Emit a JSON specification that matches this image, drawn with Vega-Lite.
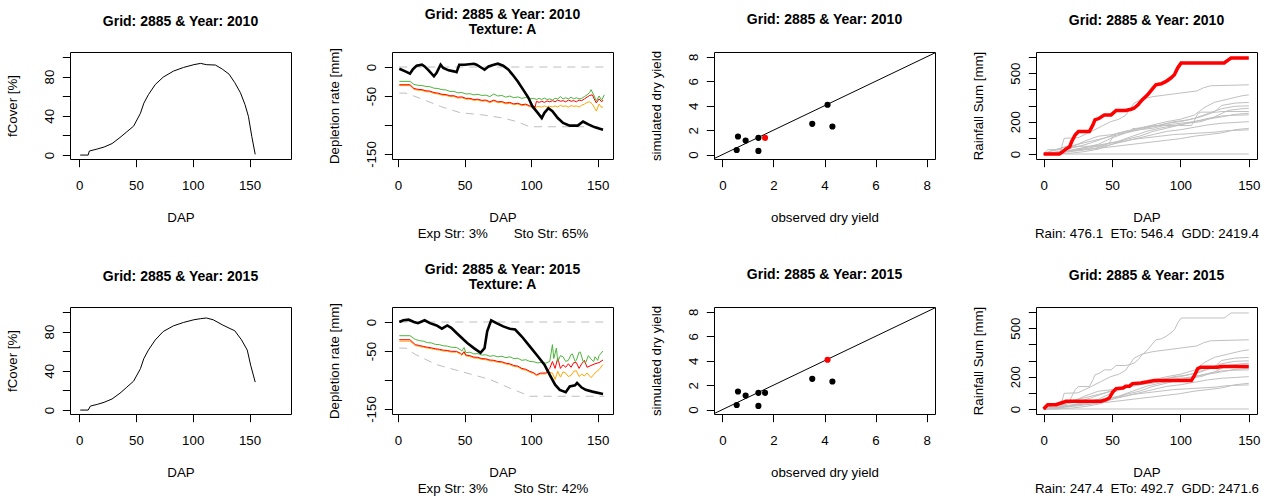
{
"$schema": "https://vega.github.io/schema/vega-lite/v6.json",
"background": "white",
"padding": {"left": 5, "top": 7, "right": 5, "bottom": 5},
"config": {
 "font": "Liberation Sans",
 "view": {"stroke": "black", "strokeWidth": 1},
 "title": {"font": "Liberation Sans", "fontSize": 14, "fontWeight": "bold", "color": "black", "anchor": "middle", "frame": "group", "baseline": "bottom", "offset": 23},
 "axis": {"domain": false, "grid": false, "ticks": true, "tickSize": 7.7, "tickColor": "black", "tickWidth": 1, "labelFont": "Liberation Sans", "labelFontSize": 13.3, "labelColor": "black", "titleFont": "Liberation Sans", "titleFontSize": 13.3, "titleFontWeight": "normal", "titleColor": "black", "labelFlush": false, "labelOverlap": false},
 "axisX": {"labelPadding": 11.6, "titlePadding": 19.3, "titleLineHeight": 15.3},
 "axisY": {"labelAngle": -90, "labelAlign": "center", "labelBaseline": "bottom", "labelPadding": 5.7, "titlePadding": 23}
},
"datasets": {
 "fc": [
  {"year":2010,"dap":1,"fc":0},{"year":2010,"dap":8,"fc":0},{"year":2010,"dap":9,"fc":4.1},{"year":2010,"dap":16,"fc":6.2},{"year":2010,"dap":22,"fc":8.2},{"year":2010,"dap":29,"fc":11.7},{"year":2010,"dap":36,"fc":17.9},{"year":2010,"dap":42,"fc":23.7},{"year":2010,"dap":48,"fc":29.5},{"year":2010,"dap":54,"fc":42.6},{"year":2010,"dap":57,"fc":52.9},{"year":2010,"dap":61,"fc":61.5},{"year":2010,"dap":67,"fc":71.8},{"year":2010,"dap":74,"fc":79.4},{"year":2010,"dap":83,"fc":85.5},{"year":2010,"dap":92,"fc":89.3},{"year":2010,"dap":101,"fc":92.1},{"year":2010,"dap":107,"fc":93.4},{"year":2010,"dap":112,"fc":92.1},{"year":2010,"dap":120,"fc":91.7},{"year":2010,"dap":126,"fc":87.6},{"year":2010,"dap":132,"fc":82.4},{"year":2010,"dap":137,"fc":73.8},{"year":2010,"dap":142,"fc":63.5},{"year":2010,"dap":146,"fc":51.5},{"year":2010,"dap":149,"fc":39.5},{"year":2010,"dap":152,"fc":18.9},{"year":2010,"dap":155,"fc":0.7},
  {"year":2015,"dap":1,"fc":0},{"year":2015,"dap":8,"fc":0},{"year":2015,"dap":10,"fc":4.1},{"year":2015,"dap":16,"fc":5.8},{"year":2015,"dap":22,"fc":7.9},{"year":2015,"dap":29,"fc":11.3},{"year":2015,"dap":36,"fc":17.2},{"year":2015,"dap":42,"fc":23.3},{"year":2015,"dap":48,"fc":29.5},{"year":2015,"dap":54,"fc":42.2},{"year":2015,"dap":57,"fc":52.5},{"year":2015,"dap":61,"fc":61.1},{"year":2015,"dap":67,"fc":71.4},{"year":2015,"dap":74,"fc":80},{"year":2015,"dap":83,"fc":85.8},{"year":2015,"dap":92,"fc":89.3},{"year":2015,"dap":101,"fc":92},{"year":2015,"dap":107,"fc":93.1},{"year":2015,"dap":112,"fc":93.8},{"year":2015,"dap":118,"fc":92},{"year":2015,"dap":126,"fc":86.9},{"year":2015,"dap":132,"fc":83.5},{"year":2015,"dap":137,"fc":80.8},{"year":2015,"dap":143,"fc":71.4},{"year":2015,"dap":148,"fc":61.1},{"year":2015,"dap":151,"fc":45.7},{"year":2015,"dap":155,"fc":28.5}
 ],
 "dep": [
  {"year":2010,"s":"top","dap":1,"v":0},{"year":2010,"s":"top","dap":155,"v":0},
  {"year":2010,"s":"taw","dap":1,"v":-45},{"year":2010,"s":"taw","dap":6,"v":-45},{"year":2010,"s":"taw","dap":19,"v":-56},{"year":2010,"s":"taw","dap":32,"v":-68},{"year":2010,"s":"taw","dap":47,"v":-79},{"year":2010,"s":"taw","dap":62,"v":-82},{"year":2010,"s":"taw","dap":79,"v":-88},{"year":2010,"s":"taw","dap":89,"v":-94},{"year":2010,"s":"taw","dap":99,"v":-103},{"year":2010,"s":"taw","dap":155,"v":-103},
  {"year":2010,"s":"green","dap":1,"v":-24.7},{"year":2010,"s":"green","dap":9,"v":-24.7},{"year":2010,"s":"green","dap":12,"v":-30},{"year":2010,"s":"green","dap":15,"v":-31.5},{"year":2010,"s":"green","dap":18,"v":-32},{"year":2010,"s":"green","dap":21,"v":-33.5},{"year":2010,"s":"green","dap":24,"v":-34},{"year":2010,"s":"green","dap":27,"v":-36.5},{"year":2010,"s":"green","dap":30,"v":-37},{"year":2010,"s":"green","dap":33,"v":-39},{"year":2010,"s":"green","dap":36,"v":-39.5},{"year":2010,"s":"green","dap":39,"v":-42},{"year":2010,"s":"green","dap":42,"v":-42},{"year":2010,"s":"green","dap":45,"v":-44.5},{"year":2010,"s":"green","dap":48,"v":-44},{"year":2010,"s":"green","dap":51,"v":-46.5},{"year":2010,"s":"green","dap":54,"v":-46},{"year":2010,"s":"green","dap":57,"v":-48},{"year":2010,"s":"green","dap":60,"v":-47},{"year":2010,"s":"green","dap":63,"v":-49},{"year":2010,"s":"green","dap":66,"v":-48.5},{"year":2010,"s":"green","dap":69,"v":-51},{"year":2010,"s":"green","dap":72,"v":-46.5},{"year":2010,"s":"green","dap":75,"v":-50},{"year":2010,"s":"green","dap":78,"v":-49},{"year":2010,"s":"green","dap":81,"v":-52},{"year":2010,"s":"green","dap":84,"v":-50},{"year":2010,"s":"green","dap":87,"v":-53},{"year":2010,"s":"green","dap":90,"v":-51.5},{"year":2010,"s":"green","dap":93,"v":-54},{"year":2010,"s":"green","dap":96,"v":-52.5},{"year":2010,"s":"green","dap":99,"v":-55},{"year":2010,"s":"green","dap":102,"v":-54},{"year":2010,"s":"green","dap":104,"v":-56},{"year":2010,"s":"green","dap":106,"v":-54},{"year":2010,"s":"green","dap":108,"v":-56},{"year":2010,"s":"green","dap":110,"v":-53.5},{"year":2010,"s":"green","dap":112,"v":-56},{"year":2010,"s":"green","dap":114,"v":-55},{"year":2010,"s":"green","dap":116,"v":-57},{"year":2010,"s":"green","dap":118,"v":-54},{"year":2010,"s":"green","dap":120,"v":-55},{"year":2010,"s":"green","dap":122,"v":-51},{"year":2010,"s":"green","dap":124,"v":-55},{"year":2010,"s":"green","dap":126,"v":-53},{"year":2010,"s":"green","dap":128,"v":-55},{"year":2010,"s":"green","dap":130,"v":-52},{"year":2010,"s":"green","dap":132,"v":-55},{"year":2010,"s":"green","dap":134,"v":-53},{"year":2010,"s":"green","dap":136,"v":-55},{"year":2010,"s":"green","dap":138,"v":-54},{"year":2010,"s":"green","dap":140,"v":-51},{"year":2010,"s":"green","dap":142,"v":-48},{"year":2010,"s":"green","dap":144,"v":-44},{"year":2010,"s":"green","dap":145,"v":-39},{"year":2010,"s":"green","dap":147,"v":-48},{"year":2010,"s":"green","dap":149,"v":-59},{"year":2010,"s":"green","dap":151,"v":-50},{"year":2010,"s":"green","dap":153,"v":-57},{"year":2010,"s":"green","dap":155,"v":-48},
  {"year":2010,"s":"orange","dap":1,"v":-32},{"year":2010,"s":"orange","dap":9,"v":-32},{"year":2010,"s":"orange","dap":12,"v":-38.5},{"year":2010,"s":"orange","dap":15,"v":-40},{"year":2010,"s":"orange","dap":18,"v":-40.5},{"year":2010,"s":"orange","dap":21,"v":-42.5},{"year":2010,"s":"orange","dap":24,"v":-43},{"year":2010,"s":"orange","dap":27,"v":-45.5},{"year":2010,"s":"orange","dap":30,"v":-46.5},{"year":2010,"s":"orange","dap":33,"v":-48.5},{"year":2010,"s":"orange","dap":36,"v":-49},{"year":2010,"s":"orange","dap":39,"v":-51},{"year":2010,"s":"orange","dap":42,"v":-51},{"year":2010,"s":"orange","dap":45,"v":-53.5},{"year":2010,"s":"orange","dap":48,"v":-53},{"year":2010,"s":"orange","dap":51,"v":-55.5},{"year":2010,"s":"orange","dap":54,"v":-55.5},{"year":2010,"s":"orange","dap":57,"v":-57.5},{"year":2010,"s":"orange","dap":60,"v":-57},{"year":2010,"s":"orange","dap":63,"v":-59},{"year":2010,"s":"orange","dap":66,"v":-58.5},{"year":2010,"s":"orange","dap":69,"v":-61.5},{"year":2010,"s":"orange","dap":72,"v":-58.5},{"year":2010,"s":"orange","dap":75,"v":-61.5},{"year":2010,"s":"orange","dap":78,"v":-61},{"year":2010,"s":"orange","dap":81,"v":-63.5},{"year":2010,"s":"orange","dap":84,"v":-62.5},{"year":2010,"s":"orange","dap":87,"v":-65},{"year":2010,"s":"orange","dap":90,"v":-64},{"year":2010,"s":"orange","dap":93,"v":-66.5},{"year":2010,"s":"orange","dap":96,"v":-65.5},{"year":2010,"s":"orange","dap":99,"v":-68.5},{"year":2010,"s":"orange","dap":102,"v":-69},{"year":2010,"s":"orange","dap":103,"v":-70},{"year":2010,"s":"orange","dap":105,"v":-68},{"year":2010,"s":"orange","dap":108,"v":-69},{"year":2010,"s":"orange","dap":110,"v":-67},{"year":2010,"s":"orange","dap":112,"v":-69},{"year":2010,"s":"orange","dap":114,"v":-67.5},{"year":2010,"s":"orange","dap":116,"v":-69},{"year":2010,"s":"orange","dap":118,"v":-67},{"year":2010,"s":"orange","dap":120,"v":-69},{"year":2010,"s":"orange","dap":122,"v":-66},{"year":2010,"s":"orange","dap":124,"v":-68},{"year":2010,"s":"orange","dap":126,"v":-67},{"year":2010,"s":"orange","dap":128,"v":-69},{"year":2010,"s":"orange","dap":130,"v":-66.5},{"year":2010,"s":"orange","dap":132,"v":-68},{"year":2010,"s":"orange","dap":134,"v":-67},{"year":2010,"s":"orange","dap":136,"v":-69},{"year":2010,"s":"orange","dap":138,"v":-66},{"year":2010,"s":"orange","dap":140,"v":-64},{"year":2010,"s":"orange","dap":142,"v":-61},{"year":2010,"s":"orange","dap":144,"v":-60},{"year":2010,"s":"orange","dap":146,"v":-64},{"year":2010,"s":"orange","dap":148,"v":-72},{"year":2010,"s":"orange","dap":149,"v":-76},{"year":2010,"s":"orange","dap":151,"v":-64},{"year":2010,"s":"orange","dap":153,"v":-70},{"year":2010,"s":"orange","dap":154,"v":-68},
  {"year":2010,"s":"red","dap":1,"v":-30.5},{"year":2010,"s":"red","dap":9,"v":-30.5},{"year":2010,"s":"red","dap":12,"v":-37},{"year":2010,"s":"red","dap":15,"v":-38.5},{"year":2010,"s":"red","dap":18,"v":-39},{"year":2010,"s":"red","dap":21,"v":-41},{"year":2010,"s":"red","dap":24,"v":-41.5},{"year":2010,"s":"red","dap":27,"v":-44},{"year":2010,"s":"red","dap":30,"v":-45},{"year":2010,"s":"red","dap":33,"v":-47},{"year":2010,"s":"red","dap":36,"v":-47.5},{"year":2010,"s":"red","dap":39,"v":-49.5},{"year":2010,"s":"red","dap":42,"v":-49.5},{"year":2010,"s":"red","dap":45,"v":-52},{"year":2010,"s":"red","dap":48,"v":-51.5},{"year":2010,"s":"red","dap":51,"v":-54},{"year":2010,"s":"red","dap":54,"v":-54},{"year":2010,"s":"red","dap":57,"v":-56},{"year":2010,"s":"red","dap":60,"v":-55.5},{"year":2010,"s":"red","dap":63,"v":-57.5},{"year":2010,"s":"red","dap":66,"v":-57},{"year":2010,"s":"red","dap":69,"v":-60},{"year":2010,"s":"red","dap":72,"v":-57},{"year":2010,"s":"red","dap":75,"v":-60},{"year":2010,"s":"red","dap":78,"v":-59.5},{"year":2010,"s":"red","dap":81,"v":-62},{"year":2010,"s":"red","dap":84,"v":-61},{"year":2010,"s":"red","dap":87,"v":-63.5},{"year":2010,"s":"red","dap":90,"v":-62.5},{"year":2010,"s":"red","dap":93,"v":-65},{"year":2010,"s":"red","dap":96,"v":-64},{"year":2010,"s":"red","dap":99,"v":-67},{"year":2010,"s":"red","dap":102,"v":-67.5},{"year":2010,"s":"red","dap":103,"v":-69},{"year":2010,"s":"red","dap":104,"v":-59},{"year":2010,"s":"red","dap":106,"v":-61},{"year":2010,"s":"red","dap":108,"v":-59},{"year":2010,"s":"red","dap":110,"v":-61},{"year":2010,"s":"red","dap":112,"v":-58.5},{"year":2010,"s":"red","dap":114,"v":-60},{"year":2010,"s":"red","dap":116,"v":-58},{"year":2010,"s":"red","dap":118,"v":-60},{"year":2010,"s":"red","dap":120,"v":-57},{"year":2010,"s":"red","dap":122,"v":-59},{"year":2010,"s":"red","dap":124,"v":-58},{"year":2010,"s":"red","dap":126,"v":-60},{"year":2010,"s":"red","dap":128,"v":-57},{"year":2010,"s":"red","dap":130,"v":-59},{"year":2010,"s":"red","dap":132,"v":-58},{"year":2010,"s":"red","dap":134,"v":-60},{"year":2010,"s":"red","dap":136,"v":-57},{"year":2010,"s":"red","dap":138,"v":-58},{"year":2010,"s":"red","dap":140,"v":-55},{"year":2010,"s":"red","dap":142,"v":-52},{"year":2010,"s":"red","dap":144,"v":-49},{"year":2010,"s":"red","dap":146,"v":-48},{"year":2010,"s":"red","dap":148,"v":-58},{"year":2010,"s":"red","dap":149,"v":-62},{"year":2010,"s":"red","dap":151,"v":-55},{"year":2010,"s":"red","dap":153,"v":-60},{"year":2010,"s":"red","dap":154,"v":-57},
  {"year":2010,"s":"black","dap":1,"v":-3},{"year":2010,"s":"black","dap":5.5,"v":-7.5},{"year":2010,"s":"black","dap":9,"v":-11.5},{"year":2010,"s":"black","dap":11,"v":-4.6},{"year":2010,"s":"black","dap":14,"v":2.3},{"year":2010,"s":"black","dap":18,"v":4},{"year":2010,"s":"black","dap":20,"v":1},{"year":2010,"s":"black","dap":23,"v":-5.7},{"year":2010,"s":"black","dap":27,"v":-16},{"year":2010,"s":"black","dap":29,"v":-10},{"year":2010,"s":"black","dap":32,"v":4},{"year":2010,"s":"black","dap":34,"v":-1.7},{"year":2010,"s":"black","dap":38,"v":-5.7},{"year":2010,"s":"black","dap":42,"v":-7.5},{"year":2010,"s":"black","dap":44,"v":-9},{"year":2010,"s":"black","dap":46,"v":4},{"year":2010,"s":"black","dap":50,"v":4},{"year":2010,"s":"black","dap":57,"v":5.7},{"year":2010,"s":"black","dap":59,"v":4},{"year":2010,"s":"black","dap":63,"v":-1.7},{"year":2010,"s":"black","dap":65,"v":-4.6},{"year":2010,"s":"black","dap":68,"v":1},{"year":2010,"s":"black","dap":72,"v":4},{"year":2010,"s":"black","dap":75,"v":5.7},{"year":2010,"s":"black","dap":79,"v":2.3},{"year":2010,"s":"black","dap":83,"v":-4.6},{"year":2010,"s":"black","dap":86,"v":-13},{"year":2010,"s":"black","dap":90,"v":-25},{"year":2010,"s":"black","dap":94,"v":-39},{"year":2010,"s":"black","dap":98,"v":-53},{"year":2010,"s":"black","dap":101,"v":-68},{"year":2010,"s":"black","dap":105,"v":-79},{"year":2010,"s":"black","dap":108,"v":-88},{"year":2010,"s":"black","dap":110,"v":-79},{"year":2010,"s":"black","dap":113,"v":-71},{"year":2010,"s":"black","dap":116,"v":-76},{"year":2010,"s":"black","dap":120,"v":-88},{"year":2010,"s":"black","dap":124,"v":-96.5},{"year":2010,"s":"black","dap":129,"v":-101},{"year":2010,"s":"black","dap":135,"v":-101},{"year":2010,"s":"black","dap":139,"v":-94},{"year":2010,"s":"black","dap":143,"v":-99},{"year":2010,"s":"black","dap":148,"v":-104},{"year":2010,"s":"black","dap":154,"v":-108},
  {"year":2015,"s":"top","dap":1,"v":0},{"year":2015,"s":"top","dap":155,"v":0},
  {"year":2015,"s":"taw","dap":1,"v":-45},{"year":2015,"s":"taw","dap":6,"v":-45},{"year":2015,"s":"taw","dap":13,"v":-56},{"year":2015,"s":"taw","dap":29,"v":-73.5},{"year":2015,"s":"taw","dap":47,"v":-85},{"year":2015,"s":"taw","dap":69,"v":-99},{"year":2015,"s":"taw","dap":84,"v":-114},{"year":2015,"s":"taw","dap":96,"v":-125},{"year":2015,"s":"taw","dap":99,"v":-128},{"year":2015,"s":"taw","dap":155,"v":-128},
  {"year":2015,"s":"green","dap":1,"v":-23.6},{"year":2015,"s":"green","dap":9,"v":-23.6},{"year":2015,"s":"green","dap":13,"v":-30},{"year":2015,"s":"green","dap":16,"v":-32},{"year":2015,"s":"green","dap":19,"v":-33},{"year":2015,"s":"green","dap":22,"v":-35.5},{"year":2015,"s":"green","dap":25,"v":-36},{"year":2015,"s":"green","dap":28,"v":-38.5},{"year":2015,"s":"green","dap":31,"v":-39},{"year":2015,"s":"green","dap":34,"v":-41},{"year":2015,"s":"green","dap":37,"v":-41.5},{"year":2015,"s":"green","dap":40,"v":-43.5},{"year":2015,"s":"green","dap":44,"v":-44},{"year":2015,"s":"green","dap":47,"v":-48},{"year":2015,"s":"green","dap":48,"v":-50},{"year":2015,"s":"green","dap":49.6,"v":-44},{"year":2015,"s":"green","dap":51,"v":-53},{"year":2015,"s":"green","dap":54,"v":-52},{"year":2015,"s":"green","dap":57,"v":-55},{"year":2015,"s":"green","dap":60,"v":-54.5},{"year":2015,"s":"green","dap":63,"v":-57},{"year":2015,"s":"green","dap":66,"v":-56.5},{"year":2015,"s":"green","dap":69,"v":-59},{"year":2015,"s":"green","dap":72,"v":-58},{"year":2015,"s":"green","dap":75,"v":-60},{"year":2015,"s":"green","dap":78,"v":-59},{"year":2015,"s":"green","dap":81,"v":-61.5},{"year":2015,"s":"green","dap":84,"v":-60},{"year":2015,"s":"green","dap":87,"v":-63},{"year":2015,"s":"green","dap":90,"v":-62.5},{"year":2015,"s":"green","dap":93,"v":-66},{"year":2015,"s":"green","dap":96,"v":-65},{"year":2015,"s":"green","dap":99,"v":-68},{"year":2015,"s":"green","dap":102,"v":-68.5},{"year":2015,"s":"green","dap":105,"v":-70.5},{"year":2015,"s":"green","dap":108,"v":-69.5},{"year":2015,"s":"green","dap":111,"v":-71},{"year":2015,"s":"green","dap":114,"v":-68},{"year":2015,"s":"green","dap":116,"v":-39},{"year":2015,"s":"green","dap":117,"v":-63},{"year":2015,"s":"green","dap":119,"v":-45},{"year":2015,"s":"green","dap":120,"v":-68},{"year":2015,"s":"green","dap":122,"v":-58},{"year":2015,"s":"green","dap":124,"v":-60},{"year":2015,"s":"green","dap":126,"v":-68},{"year":2015,"s":"green","dap":128,"v":-66},{"year":2015,"s":"green","dap":130,"v":-56},{"year":2015,"s":"green","dap":131,"v":-55},{"year":2015,"s":"green","dap":133,"v":-68},{"year":2015,"s":"green","dap":134,"v":-66},{"year":2015,"s":"green","dap":136,"v":-52},{"year":2015,"s":"green","dap":137,"v":-52},{"year":2015,"s":"green","dap":139,"v":-68},{"year":2015,"s":"green","dap":141,"v":-70},{"year":2015,"s":"green","dap":143,"v":-58},{"year":2015,"s":"green","dap":145,"v":-64},{"year":2015,"s":"green","dap":147,"v":-68},{"year":2015,"s":"green","dap":148,"v":-60},{"year":2015,"s":"green","dap":150,"v":-66},{"year":2015,"s":"green","dap":151,"v":-58},{"year":2015,"s":"green","dap":154,"v":-50},
  {"year":2015,"s":"orange","dap":1,"v":-33},{"year":2015,"s":"orange","dap":9,"v":-33},{"year":2015,"s":"orange","dap":13,"v":-40.5},{"year":2015,"s":"orange","dap":16,"v":-42},{"year":2015,"s":"orange","dap":19,"v":-43.5},{"year":2015,"s":"orange","dap":22,"v":-45},{"year":2015,"s":"orange","dap":25,"v":-46},{"year":2015,"s":"orange","dap":28,"v":-47.5},{"year":2015,"s":"orange","dap":31,"v":-48.5},{"year":2015,"s":"orange","dap":34,"v":-50},{"year":2015,"s":"orange","dap":37,"v":-50.5},{"year":2015,"s":"orange","dap":40,"v":-52},{"year":2015,"s":"orange","dap":44,"v":-52},{"year":2015,"s":"orange","dap":47,"v":-55.5},{"year":2015,"s":"orange","dap":48,"v":-57.5},{"year":2015,"s":"orange","dap":49.6,"v":-52.5},{"year":2015,"s":"orange","dap":51,"v":-58.5},{"year":2015,"s":"orange","dap":54,"v":-59.5},{"year":2015,"s":"orange","dap":57,"v":-62},{"year":2015,"s":"orange","dap":60,"v":-62.5},{"year":2015,"s":"orange","dap":63,"v":-64.5},{"year":2015,"s":"orange","dap":66,"v":-65},{"year":2015,"s":"orange","dap":69,"v":-67},{"year":2015,"s":"orange","dap":72,"v":-67.5},{"year":2015,"s":"orange","dap":75,"v":-69.5},{"year":2015,"s":"orange","dap":78,"v":-70},{"year":2015,"s":"orange","dap":81,"v":-72.5},{"year":2015,"s":"orange","dap":84,"v":-73.5},{"year":2015,"s":"orange","dap":87,"v":-76.5},{"year":2015,"s":"orange","dap":90,"v":-77.5},{"year":2015,"s":"orange","dap":93,"v":-81.5},{"year":2015,"s":"orange","dap":96,"v":-83},{"year":2015,"s":"orange","dap":99,"v":-86.5},{"year":2015,"s":"orange","dap":102,"v":-89},{"year":2015,"s":"orange","dap":104,"v":-92.5},{"year":2015,"s":"orange","dap":107,"v":-89.5},{"year":2015,"s":"orange","dap":111,"v":-89.5},{"year":2015,"s":"orange","dap":113,"v":-86},{"year":2015,"s":"orange","dap":116,"v":-88},{"year":2015,"s":"orange","dap":118,"v":-99},{"year":2015,"s":"orange","dap":120,"v":-85},{"year":2015,"s":"orange","dap":122,"v":-95},{"year":2015,"s":"orange","dap":124,"v":-86},{"year":2015,"s":"orange","dap":126,"v":-88},{"year":2015,"s":"orange","dap":128,"v":-94},{"year":2015,"s":"orange","dap":130,"v":-92},{"year":2015,"s":"orange","dap":132,"v":-85},{"year":2015,"s":"orange","dap":134,"v":-84},{"year":2015,"s":"orange","dap":136,"v":-94},{"year":2015,"s":"orange","dap":138,"v":-90},{"year":2015,"s":"orange","dap":140,"v":-93},{"year":2015,"s":"orange","dap":142,"v":-88},{"year":2015,"s":"orange","dap":145,"v":-96},{"year":2015,"s":"orange","dap":148,"v":-88},{"year":2015,"s":"orange","dap":151,"v":-82},{"year":2015,"s":"orange","dap":154,"v":-73.5},
  {"year":2015,"s":"red","dap":1,"v":-30.5},{"year":2015,"s":"red","dap":9,"v":-30.5},{"year":2015,"s":"red","dap":13,"v":-39},{"year":2015,"s":"red","dap":16,"v":-40.5},{"year":2015,"s":"red","dap":19,"v":-42},{"year":2015,"s":"red","dap":22,"v":-43.5},{"year":2015,"s":"red","dap":25,"v":-44.5},{"year":2015,"s":"red","dap":28,"v":-46},{"year":2015,"s":"red","dap":31,"v":-47},{"year":2015,"s":"red","dap":34,"v":-48.5},{"year":2015,"s":"red","dap":37,"v":-49},{"year":2015,"s":"red","dap":40,"v":-50.5},{"year":2015,"s":"red","dap":44,"v":-50.6},{"year":2015,"s":"red","dap":47,"v":-54},{"year":2015,"s":"red","dap":48,"v":-56},{"year":2015,"s":"red","dap":49.6,"v":-51},{"year":2015,"s":"red","dap":51,"v":-57},{"year":2015,"s":"red","dap":54,"v":-58},{"year":2015,"s":"red","dap":57,"v":-60.5},{"year":2015,"s":"red","dap":60,"v":-61},{"year":2015,"s":"red","dap":63,"v":-63},{"year":2015,"s":"red","dap":66,"v":-63.5},{"year":2015,"s":"red","dap":69,"v":-65.5},{"year":2015,"s":"red","dap":72,"v":-66},{"year":2015,"s":"red","dap":75,"v":-68},{"year":2015,"s":"red","dap":78,"v":-68.5},{"year":2015,"s":"red","dap":81,"v":-71},{"year":2015,"s":"red","dap":84,"v":-72},{"year":2015,"s":"red","dap":87,"v":-75},{"year":2015,"s":"red","dap":90,"v":-76},{"year":2015,"s":"red","dap":93,"v":-80},{"year":2015,"s":"red","dap":96,"v":-81.5},{"year":2015,"s":"red","dap":99,"v":-85},{"year":2015,"s":"red","dap":102,"v":-87.5},{"year":2015,"s":"red","dap":104,"v":-91},{"year":2015,"s":"red","dap":107,"v":-88},{"year":2015,"s":"red","dap":111,"v":-88},{"year":2015,"s":"red","dap":114,"v":-80},{"year":2015,"s":"red","dap":116,"v":-68},{"year":2015,"s":"red","dap":118,"v":-80},{"year":2015,"s":"red","dap":120,"v":-62},{"year":2015,"s":"red","dap":122,"v":-80},{"year":2015,"s":"red","dap":124,"v":-74},{"year":2015,"s":"red","dap":126,"v":-78},{"year":2015,"s":"red","dap":128,"v":-72},{"year":2015,"s":"red","dap":130,"v":-78},{"year":2015,"s":"red","dap":132,"v":-70},{"year":2015,"s":"red","dap":134,"v":-70},{"year":2015,"s":"red","dap":136,"v":-80},{"year":2015,"s":"red","dap":138,"v":-72},{"year":2015,"s":"red","dap":140,"v":-66},{"year":2015,"s":"red","dap":142,"v":-78},{"year":2015,"s":"red","dap":145,"v":-75},{"year":2015,"s":"red","dap":148,"v":-72},{"year":2015,"s":"red","dap":151,"v":-70},{"year":2015,"s":"red","dap":154,"v":-65.5},
  {"year":2015,"s":"black","dap":1,"v":0},{"year":2015,"s":"black","dap":4,"v":3},{"year":2015,"s":"black","dap":8,"v":4},{"year":2015,"s":"black","dap":12,"v":0},{"year":2015,"s":"black","dap":15,"v":-2},{"year":2015,"s":"black","dap":20,"v":3},{"year":2015,"s":"black","dap":24,"v":-2},{"year":2015,"s":"black","dap":29,"v":-6},{"year":2015,"s":"black","dap":33,"v":-11.5},{"year":2015,"s":"black","dap":37,"v":-6},{"year":2015,"s":"black","dap":40,"v":-10},{"year":2015,"s":"black","dap":44,"v":-19},{"year":2015,"s":"black","dap":48,"v":-27.6},{"year":2015,"s":"black","dap":52,"v":-36},{"year":2015,"s":"black","dap":57,"v":-45},{"year":2015,"s":"black","dap":62,"v":-53},{"year":2015,"s":"black","dap":65,"v":-45},{"year":2015,"s":"black","dap":67,"v":-16},{"year":2015,"s":"black","dap":70,"v":3},{"year":2015,"s":"black","dap":74,"v":-2},{"year":2015,"s":"black","dap":79,"v":-7.5},{"year":2015,"s":"black","dap":84,"v":-11.5},{"year":2015,"s":"black","dap":88,"v":-13},{"year":2015,"s":"black","dap":93,"v":-25},{"year":2015,"s":"black","dap":99,"v":-42},{"year":2015,"s":"black","dap":105,"v":-59},{"year":2015,"s":"black","dap":110,"v":-73.5},{"year":2015,"s":"black","dap":114,"v":-91},{"year":2015,"s":"black","dap":118,"v":-108},{"year":2015,"s":"black","dap":121.5,"v":-117},{"year":2015,"s":"black","dap":126,"v":-121},{"year":2015,"s":"black","dap":129,"v":-111},{"year":2015,"s":"black","dap":133,"v":-109},{"year":2015,"s":"black","dap":134.5,"v":-105},{"year":2015,"s":"black","dap":138,"v":-113},{"year":2015,"s":"black","dap":141,"v":-117},{"year":2015,"s":"black","dap":146,"v":-120},{"year":2015,"s":"black","dap":154,"v":-124}
 ],
 "yield": [
  {"yr":2001,"obs":0.56,"sim":0.38},{"yr":2002,"obs":0.61,"sim":1.48},{"yr":2003,"obs":0.91,"sim":1.15},{"yr":2004,"obs":1.41,"sim":1.37},{"yr":2005,"obs":1.41,"sim":0.3},{"yr":2006,"obs":3.52,"sim":2.52},{"yr":2007,"obs":4.31,"sim":2.3},{"yr":2010,"obs":1.67,"sim":1.37},{"yr":2015,"obs":4.12,"sim":4.08}
 ],
 "diag": [{"obs":-1,"sim":-1},{"obs":9,"sim":9}],
 "rain": [
  {"yr":2010,"dap":0,"r":0},{"yr":2010,"dap":11.5,"r":0},{"yr":2010,"dap":14,"r":14},{"yr":2010,"dap":16,"r":29},{"yr":2010,"dap":19,"r":45},{"yr":2010,"dap":20.5,"r":77},{"yr":2010,"dap":23,"r":118},{"yr":2010,"dap":25.4,"r":139},{"yr":2010,"dap":33.4,"r":139},{"yr":2010,"dap":36,"r":180},{"yr":2010,"dap":37.5,"r":211},{"yr":2010,"dap":40.7,"r":221},{"yr":2010,"dap":44.4,"r":242},{"yr":2010,"dap":49.3,"r":242},{"yr":2010,"dap":53,"r":269},{"yr":2010,"dap":60,"r":269},{"yr":2010,"dap":64,"r":277},{"yr":2010,"dap":66,"r":283},{"yr":2010,"dap":69,"r":304},{"yr":2010,"dap":72,"r":335},{"yr":2010,"dap":76,"r":366},{"yr":2010,"dap":80,"r":408},{"yr":2010,"dap":82,"r":428},{"yr":2010,"dap":86,"r":434},{"yr":2010,"dap":89.5,"r":449},{"yr":2010,"dap":93,"r":470},{"yr":2010,"dap":95.6,"r":490},{"yr":2010,"dap":98,"r":532},{"yr":2010,"dap":100.5,"r":563},{"yr":2010,"dap":132,"r":563},{"yr":2010,"dap":134.6,"r":579},{"yr":2010,"dap":137,"r":594},{"yr":2010,"dap":150,"r":594},
  {"yr":2015,"dap":0,"r":0},{"yr":2015,"dap":1.7,"r":16},{"yr":2015,"dap":3,"r":27},{"yr":2015,"dap":9,"r":27},{"yr":2015,"dap":12.7,"r":37},{"yr":2015,"dap":15,"r":43},{"yr":2015,"dap":16.3,"r":48},{"yr":2015,"dap":42,"r":48},{"yr":2015,"dap":45.6,"r":58},{"yr":2015,"dap":48,"r":68},{"yr":2015,"dap":50.5,"r":105},{"yr":2015,"dap":53,"r":126},{"yr":2015,"dap":58,"r":130},{"yr":2015,"dap":60,"r":141},{"yr":2015,"dap":62.7,"r":141},{"yr":2015,"dap":65,"r":157},{"yr":2015,"dap":71,"r":161},{"yr":2015,"dap":76,"r":168},{"yr":2015,"dap":81,"r":176},{"yr":2015,"dap":108,"r":176},{"yr":2015,"dap":110,"r":203},{"yr":2015,"dap":112.7,"r":250},{"yr":2015,"dap":115,"r":259},{"yr":2015,"dap":127,"r":259},{"yr":2015,"dap":130,"r":263},{"yr":2015,"dap":150,"r":263},
  {"yr":2000,"dap":0,"r":0},{"yr":2000,"dap":12,"r":10},{"yr":2000,"dap":15,"r":97},{"yr":2000,"dap":25,"r":100},{"yr":2000,"dap":35,"r":140},{"yr":2000,"dap":42,"r":170},{"yr":2000,"dap":49,"r":200},{"yr":2000,"dap":55,"r":215},{"yr":2000,"dap":60,"r":240},{"yr":2000,"dap":66,"r":314},{"yr":2000,"dap":72,"r":340},{"yr":2000,"dap":80,"r":355},{"yr":2000,"dap":100,"r":377},{"yr":2000,"dap":112,"r":390},{"yr":2000,"dap":117,"r":410},{"yr":2000,"dap":122,"r":422},{"yr":2000,"dap":150,"r":428},
  {"yr":2001,"dap":0,"r":0},{"yr":2001,"dap":20,"r":20},{"yr":2001,"dap":30,"r":40},{"yr":2001,"dap":40,"r":60},{"yr":2001,"dap":50,"r":100},{"yr":2001,"dap":60,"r":130},{"yr":2001,"dap":70,"r":160},{"yr":2001,"dap":80,"r":180},{"yr":2001,"dap":90,"r":200},{"yr":2001,"dap":100,"r":215},{"yr":2001,"dap":110,"r":240},{"yr":2001,"dap":118,"r":290},{"yr":2001,"dap":125,"r":320},{"yr":2001,"dap":135,"r":340},{"yr":2001,"dap":145,"r":360},{"yr":2001,"dap":150,"r":366},
  {"yr":2002,"dap":0,"r":0},{"yr":2002,"dap":5,"r":20},{"yr":2002,"dap":15,"r":30},{"yr":2002,"dap":25,"r":45},{"yr":2002,"dap":35,"r":70},{"yr":2002,"dap":45,"r":100},{"yr":2002,"dap":55,"r":130},{"yr":2002,"dap":65,"r":150},{"yr":2002,"dap":75,"r":165},{"yr":2002,"dap":85,"r":175},{"yr":2002,"dap":95,"r":200},{"yr":2002,"dap":105,"r":210},{"yr":2002,"dap":115,"r":230},{"yr":2002,"dap":125,"r":260},{"yr":2002,"dap":130,"r":300},{"yr":2002,"dap":140,"r":315},{"yr":2002,"dap":150,"r":319},
  {"yr":2003,"dap":0,"r":0},{"yr":2003,"dap":10,"r":10},{"yr":2003,"dap":20,"r":40},{"yr":2003,"dap":30,"r":80},{"yr":2003,"dap":40,"r":110},{"yr":2003,"dap":50,"r":120},{"yr":2003,"dap":60,"r":140},{"yr":2003,"dap":70,"r":150},{"yr":2003,"dap":80,"r":170},{"yr":2003,"dap":90,"r":190},{"yr":2003,"dap":100,"r":200},{"yr":2003,"dap":110,"r":220},{"yr":2003,"dap":120,"r":250},{"yr":2003,"dap":130,"r":280},{"yr":2003,"dap":140,"r":295},{"yr":2003,"dap":150,"r":298},
  {"yr":2004,"dap":0,"r":0},{"yr":2004,"dap":15,"r":15},{"yr":2004,"dap":25,"r":25},{"yr":2004,"dap":35,"r":40},{"yr":2004,"dap":45,"r":60},{"yr":2004,"dap":55,"r":80},{"yr":2004,"dap":65,"r":110},{"yr":2004,"dap":75,"r":140},{"yr":2004,"dap":85,"r":160},{"yr":2004,"dap":95,"r":175},{"yr":2004,"dap":105,"r":190},{"yr":2004,"dap":115,"r":200},{"yr":2004,"dap":125,"r":230},{"yr":2004,"dap":135,"r":270},{"yr":2004,"dap":145,"r":280},{"yr":2004,"dap":150,"r":283},
  {"yr":2005,"dap":0,"r":0},{"yr":2005,"dap":10,"r":30},{"yr":2005,"dap":20,"r":50},{"yr":2005,"dap":30,"r":70},{"yr":2005,"dap":40,"r":90},{"yr":2005,"dap":50,"r":110},{"yr":2005,"dap":60,"r":130},{"yr":2005,"dap":70,"r":150},{"yr":2005,"dap":80,"r":160},{"yr":2005,"dap":90,"r":180},{"yr":2005,"dap":100,"r":190},{"yr":2005,"dap":110,"r":200},{"yr":2005,"dap":120,"r":215},{"yr":2005,"dap":130,"r":230},{"yr":2005,"dap":140,"r":245},{"yr":2005,"dap":150,"r":252},
  {"yr":2006,"dap":0,"r":0},{"yr":2006,"dap":20,"r":5},{"yr":2006,"dap":30,"r":15},{"yr":2006,"dap":40,"r":30},{"yr":2006,"dap":50,"r":60},{"yr":2006,"dap":60,"r":90},{"yr":2006,"dap":70,"r":110},{"yr":2006,"dap":80,"r":140},{"yr":2006,"dap":90,"r":160},{"yr":2006,"dap":100,"r":180},{"yr":2006,"dap":110,"r":200},{"yr":2006,"dap":120,"r":220},{"yr":2006,"dap":130,"r":235},{"yr":2006,"dap":140,"r":240},{"yr":2006,"dap":150,"r":242},
  {"yr":2007,"dap":0,"r":0},{"yr":2007,"dap":10,"r":15},{"yr":2007,"dap":20,"r":25},{"yr":2007,"dap":30,"r":40},{"yr":2007,"dap":40,"r":55},{"yr":2007,"dap":50,"r":70},{"yr":2007,"dap":60,"r":80},{"yr":2007,"dap":70,"r":100},{"yr":2007,"dap":80,"r":120},{"yr":2007,"dap":90,"r":140},{"yr":2007,"dap":100,"r":150},{"yr":2007,"dap":110,"r":165},{"yr":2007,"dap":120,"r":180},{"yr":2007,"dap":130,"r":190},{"yr":2007,"dap":140,"r":195},{"yr":2007,"dap":150,"r":200},
  {"yr":2008,"dap":0,"r":0},{"yr":2008,"dap":10,"r":10},{"yr":2008,"dap":20,"r":20},{"yr":2008,"dap":30,"r":30},{"yr":2008,"dap":40,"r":35},{"yr":2008,"dap":50,"r":45},{"yr":2008,"dap":60,"r":55},{"yr":2008,"dap":70,"r":65},{"yr":2008,"dap":80,"r":75},{"yr":2008,"dap":90,"r":85},{"yr":2008,"dap":100,"r":95},{"yr":2008,"dap":110,"r":110},{"yr":2008,"dap":120,"r":120},{"yr":2008,"dap":130,"r":130},{"yr":2008,"dap":140,"r":150},{"yr":2008,"dap":150,"r":159},
  {"yr":2009,"dap":0,"r":0},{"yr":2009,"dap":15,"r":10},{"yr":2009,"dap":25,"r":20},{"yr":2009,"dap":35,"r":30},{"yr":2009,"dap":45,"r":50},{"yr":2009,"dap":55,"r":70},{"yr":2009,"dap":65,"r":90},{"yr":2009,"dap":75,"r":100},{"yr":2009,"dap":85,"r":110},{"yr":2009,"dap":95,"r":120},{"yr":2009,"dap":105,"r":125},{"yr":2009,"dap":115,"r":130},{"yr":2009,"dap":125,"r":135},{"yr":2009,"dap":135,"r":145},{"yr":2009,"dap":150,"r":149},
  {"yr":2011,"dap":0,"r":0},{"yr":2011,"dap":150,"r":0}
 ]
},
"columns": 4,
"spacing": {"row": 148, "column": 101},
"bounds": "flush",
"concat": [
 {"width":221,"height":107,"title":{"text":"Grid: 2885 & Year: 2010"},"data":{"name":"fc"},"transform":[{"filter":"datum.year == 2010"}],
  "mark":{"type":"line","color":"black","strokeWidth":1,"clip":true},
  "encoding":{"x":{"field":"dap","type":"quantitative","scale":{"domain":[-8,186.5],"nice":false,"zero":false},"axis":{"values":[0,50,100,150],"title":"DAP"}},
   "y":{"field":"fc","type":"quantitative","scale":{"domain":[-4,105],"nice":false,"zero":false},"axis":{"values":[0,20,40,60,80,100],"labelExpr":"datum.value % 40 == 0 ? '' + datum.value : ''","title":"fCover [%]"}}}},
 {"width":221,"height":107,"title":{"text":["Grid: 2885 & Year: 2010","Texture: A"],"offset":10,"lineHeight":15},"data":{"name":"dep"},"transform":[{"filter":"datum.year == 2010"}],
  "encoding":{"x":{"field":"dap","type":"quantitative","scale":{"domain":[-4.5,161.5],"nice":false,"zero":false},"axis":{"values":[0,50,100,150],"title":["DAP","Exp Str: 3%\u00a0\u00a0\u00a0\u00a0\u00a0\u00a0\u00a0Sto Str: 65%"]}},
   "y":{"field":"v","type":"quantitative","scale":{"domain":[-158.6,25.9],"nice":false,"zero":false},"axis":{"values":[-150,-100,-50,0],"labelExpr":"datum.value == -100 ? '' : '' + datum.value","title":"Depletion rate [mm]"}}},
  "layer":[
   {"transform":[{"filter":"datum.s == 'top' || datum.s == 'taw'"}],"mark":{"type":"line","color":"#BEBEBE","strokeWidth":1,"strokeDash":[8,6],"clip":true},"encoding":{"detail":{"field":"s"}}},
   {"transform":[{"filter":"datum.s == 'orange'"}],"mark":{"type":"line","color":"#FFA500","strokeWidth":1,"clip":true},"encoding":{}},
   {"transform":[{"filter":"datum.s == 'red'"}],"mark":{"type":"line","color":"#FF0000","strokeWidth":1,"clip":true},"encoding":{}},
   {"transform":[{"filter":"datum.s == 'green'"}],"mark":{"type":"line","color":"#4DB53C","strokeWidth":1,"clip":true},"encoding":{}},
   {"transform":[{"filter":"datum.s == 'black'"}],"mark":{"type":"line","color":"black","strokeWidth":2.6,"clip":true},"encoding":{}}
  ]},
 {"width":221,"height":107,"title":{"text":"Grid: 2885 & Year: 2010"},
  "encoding":{"x":{"field":"obs","type":"quantitative","scale":{"domain":[-0.33,8.33],"nice":false,"zero":false},"axis":{"values":[0,2,4,6,8],"title":"observed dry yield"}},
   "y":{"field":"sim","type":"quantitative","scale":{"domain":[-0.36,8.4],"nice":false,"zero":false},"axis":{"values":[0,2,4,6,8],"title":"simulated dry yield"}}},
  "layer":[
   {"data":{"name":"diag"},"mark":{"type":"line","color":"black","strokeWidth":1,"clip":true},"encoding":{}},
   {"data":{"name":"yield"},"transform":[{"filter":"datum.yr != 2010"}],"mark":{"type":"circle","color":"black","size":38,"opacity":1},"encoding":{}},
   {"data":{"name":"yield"},"transform":[{"filter":"datum.yr == 2010"}],"mark":{"type":"circle","color":"#FF0000","size":38,"opacity":1},"encoding":{}}
  ]},
 {"width":221,"height":107,"title":{"text":"Grid: 2885 & Year: 2010"},"data":{"name":"rain"},
  "encoding":{"x":{"field":"dap","type":"quantitative","scale":{"domain":[-5.6,156],"nice":false,"zero":false},"axis":{"values":[0,50,100,150],"title":["DAP","Rain: 476.1\u00a0\u00a0ETo: 546.4\u00a0\u00a0GDD: 2419.4"]}},
   "y":{"field":"r","type":"quantitative","scale":{"domain":[-31,631],"nice":false,"zero":false},"axis":{"values":[0,100,200,300,400,500,600],"labelExpr":"datum.value == 0 || datum.value == 200 || datum.value == 500 ? '' + datum.value : ''","title":"Rainfall Sum [mm]"}}},
  "layer":[
   {"transform":[{"filter":"datum.yr != 2010"}],"mark":{"type":"line","color":"#C0C0C0","strokeWidth":1,"clip":true},"encoding":{"detail":{"field":"yr"}}},
   {"transform":[{"filter":"datum.yr == 2010"}],"mark":{"type":"line","color":"#FF0000","strokeWidth":3.5,"clip":true},"encoding":{}}
  ]},
 {"width":221,"height":107,"title":{"text":"Grid: 2885 & Year: 2015"},"data":{"name":"fc"},"transform":[{"filter":"datum.year == 2015"}],
  "mark":{"type":"line","color":"black","strokeWidth":1,"clip":true},
  "encoding":{"x":{"field":"dap","type":"quantitative","scale":{"domain":[-8,186.5],"nice":false,"zero":false},"axis":{"values":[0,50,100,150],"title":"DAP"}},
   "y":{"field":"fc","type":"quantitative","scale":{"domain":[-4,105],"nice":false,"zero":false},"axis":{"values":[0,20,40,60,80,100],"labelExpr":"datum.value % 40 == 0 ? '' + datum.value : ''","title":"fCover [%]"}}}},
 {"width":221,"height":107,"title":{"text":["Grid: 2885 & Year: 2015","Texture: A"],"offset":10,"lineHeight":15},"data":{"name":"dep"},"transform":[{"filter":"datum.year == 2015"}],
  "encoding":{"x":{"field":"dap","type":"quantitative","scale":{"domain":[-4.5,161.5],"nice":false,"zero":false},"axis":{"values":[0,50,100,150],"title":["DAP","Exp Str: 3%\u00a0\u00a0\u00a0\u00a0\u00a0\u00a0\u00a0Sto Str: 42%"]}},
   "y":{"field":"v","type":"quantitative","scale":{"domain":[-158.6,25.9],"nice":false,"zero":false},"axis":{"values":[-150,-100,-50,0],"labelExpr":"datum.value == -100 ? '' : '' + datum.value","title":"Depletion rate [mm]"}}},
  "layer":[
   {"transform":[{"filter":"datum.s == 'top' || datum.s == 'taw'"}],"mark":{"type":"line","color":"#BEBEBE","strokeWidth":1,"strokeDash":[8,6],"clip":true},"encoding":{"detail":{"field":"s"}}},
   {"transform":[{"filter":"datum.s == 'orange'"}],"mark":{"type":"line","color":"#FFA500","strokeWidth":1,"clip":true},"encoding":{}},
   {"transform":[{"filter":"datum.s == 'red'"}],"mark":{"type":"line","color":"#FF0000","strokeWidth":1,"clip":true},"encoding":{}},
   {"transform":[{"filter":"datum.s == 'green'"}],"mark":{"type":"line","color":"#4DB53C","strokeWidth":1,"clip":true},"encoding":{}},
   {"transform":[{"filter":"datum.s == 'black'"}],"mark":{"type":"line","color":"black","strokeWidth":2.6,"clip":true},"encoding":{}}
  ]},
 {"width":221,"height":107,"title":{"text":"Grid: 2885 & Year: 2015"},
  "encoding":{"x":{"field":"obs","type":"quantitative","scale":{"domain":[-0.33,8.33],"nice":false,"zero":false},"axis":{"values":[0,2,4,6,8],"title":"observed dry yield"}},
   "y":{"field":"sim","type":"quantitative","scale":{"domain":[-0.36,8.4],"nice":false,"zero":false},"axis":{"values":[0,2,4,6,8],"title":"simulated dry yield"}}},
  "layer":[
   {"data":{"name":"diag"},"mark":{"type":"line","color":"black","strokeWidth":1,"clip":true},"encoding":{}},
   {"data":{"name":"yield"},"transform":[{"filter":"datum.yr != 2015"}],"mark":{"type":"circle","color":"black","size":38,"opacity":1},"encoding":{}},
   {"data":{"name":"yield"},"transform":[{"filter":"datum.yr == 2015"}],"mark":{"type":"circle","color":"#FF0000","size":38,"opacity":1},"encoding":{}}
  ]},
 {"width":221,"height":107,"title":{"text":"Grid: 2885 & Year: 2015"},"data":{"name":"rain"},
  "encoding":{"x":{"field":"dap","type":"quantitative","scale":{"domain":[-5.6,156],"nice":false,"zero":false},"axis":{"values":[0,50,100,150],"title":["DAP","Rain: 247.4\u00a0\u00a0ETo: 492.7\u00a0\u00a0GDD: 2471.6"]}},
   "y":{"field":"r","type":"quantitative","scale":{"domain":[-31,631],"nice":false,"zero":false},"axis":{"values":[0,100,200,300,400,500,600],"labelExpr":"datum.value == 0 || datum.value == 200 || datum.value == 500 ? '' + datum.value : ''","title":"Rainfall Sum [mm]"}}},
  "layer":[
   {"transform":[{"filter":"datum.yr != 2015"}],"mark":{"type":"line","color":"#C0C0C0","strokeWidth":1,"clip":true},"encoding":{"detail":{"field":"yr"}}},
   {"transform":[{"filter":"datum.yr == 2015"}],"mark":{"type":"line","color":"#FF0000","strokeWidth":3.5,"clip":true},"encoding":{}}
  ]}
]
}
